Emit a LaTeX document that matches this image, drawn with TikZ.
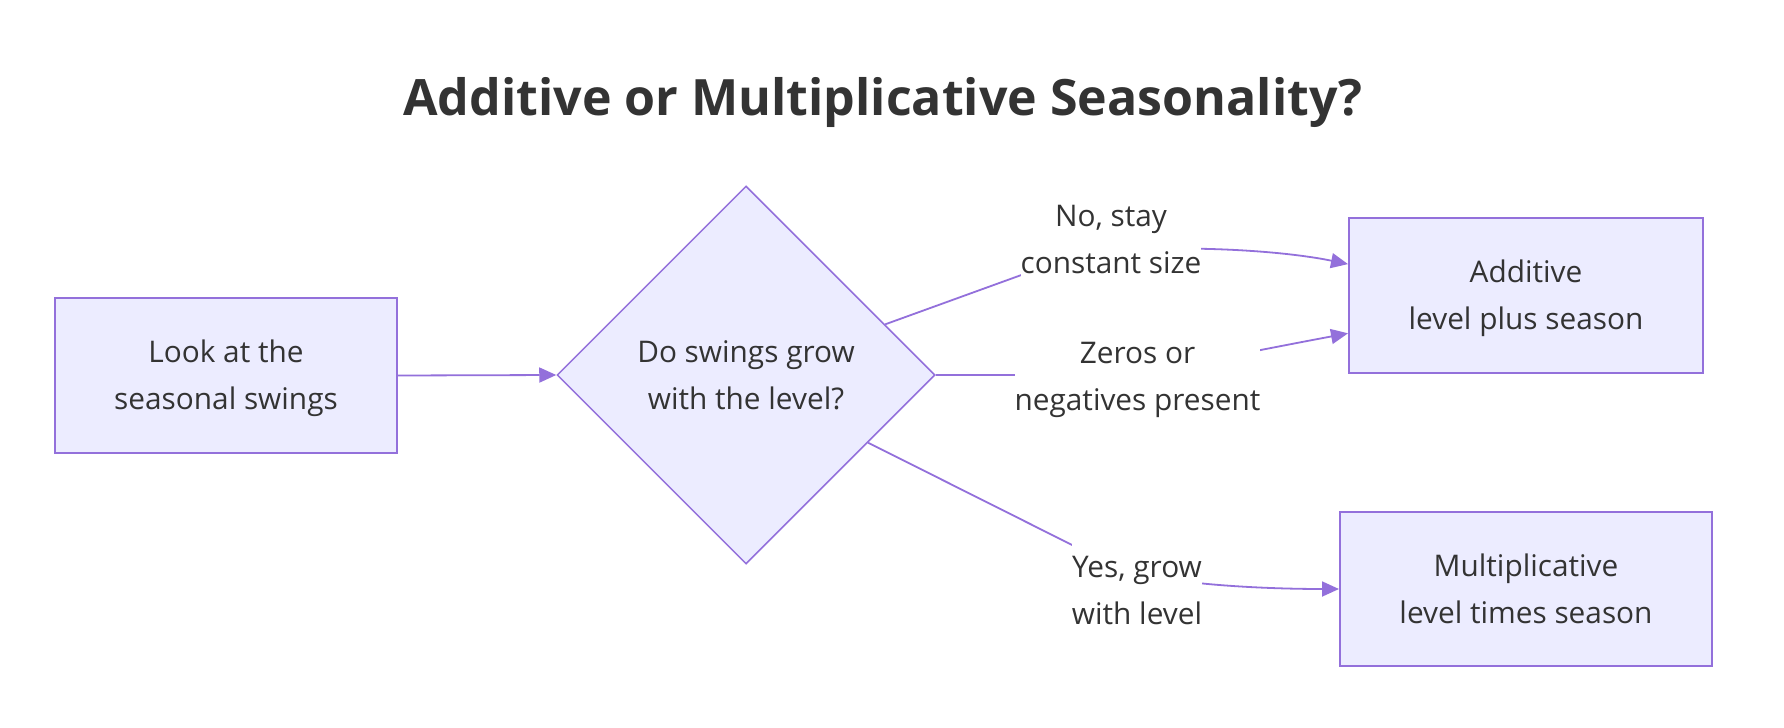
\documentclass[tikz,border=0pt]{standalone}
\usepackage{fontspec}
\setmainfont{Open Sans}
\usetikzlibrary{shapes.geometric,arrows.meta,calc}
\definecolor{nodefill}{HTML}{ECECFF}
\definecolor{nodeline}{HTML}{9370DB}
\definecolor{txt}{HTML}{333333}
\newcommand\ls{\rule[-6.5pt]{0pt}{23.5pt}}
\begin{document}
\begin{tikzpicture}[x=0.5pt,y=-0.5pt,
  every node/.style={text=txt, font=\fontsize{14.9pt}{23.5pt}\selectfont},
  box/.style={draw=nodeline, fill=nodefill, line width=1pt, minimum width=#1,
    minimum height=77.5pt, align=center, inner sep=0pt},
  decision/.style={diamond, draw=nodeline, fill=nodefill, line width=0.75pt,
    minimum width=189pt, minimum height=189pt, aspect=1, inner sep=0pt, align=center},
  lab/.style={fill=white, inner sep=0pt, align=center},
  edge/.style={draw=nodeline, line width=0.9pt, -{Triangle[length=8.5pt,width=7.5pt]}},
  titlestyle/.style={font=\fontsize{25.05pt}{30pt}\selectfont\bfseries, anchor=base}]
\fill[white] (0,0) rectangle (1784,728);
\useasboundingbox (0,0) rectangle (1784,728);

\node[titlestyle] (title) at (883,115) {Additive or Multiplicative Seasonality?};

\node[box=171pt] (look) at (226,375.5) {\ls Look at the\\\ls seasonal swings};
\node[decision] (dec) at (746,375) {\ls Do swings grow\\\ls with the level?};
\node[box=177pt] (add) at (1526,295.5) {\ls Additive\\\ls level plus season};
\node[box=186pt, minimum height=77pt] (mult) at (1526,589) {\ls Multiplicative\\\ls level times season};

\coordinate (e1a) at (1060,261);
\coordinate (e2a) at (1050,375);
\coordinate (e3a) at (1110,564);

\draw[edge] (look.east) -- (dec.west);
\draw[edge] (dec.20) -- (e1a) .. controls (1110,243) and (1260,246) .. (add.170);
\draw[edge] (dec.east) -- (e2a) .. controls (1150,375) and (1200,361) .. (add.-168);
\draw[edge] (dec.-29) -- (e3a) .. controls (1150,584) and (1260,589) .. (mult.west);

\node[lab] (l1) at (1111,239.5) {\ls No, stay\\\ls constant size};
\node[lab] (l2) at (1137.5,376) {\ls Zeros or\\\ls negatives present};
\node[lab] (l3) at (1137,590) {\ls Yes, grow\\\ls with level};
\end{tikzpicture}
\end{document}
